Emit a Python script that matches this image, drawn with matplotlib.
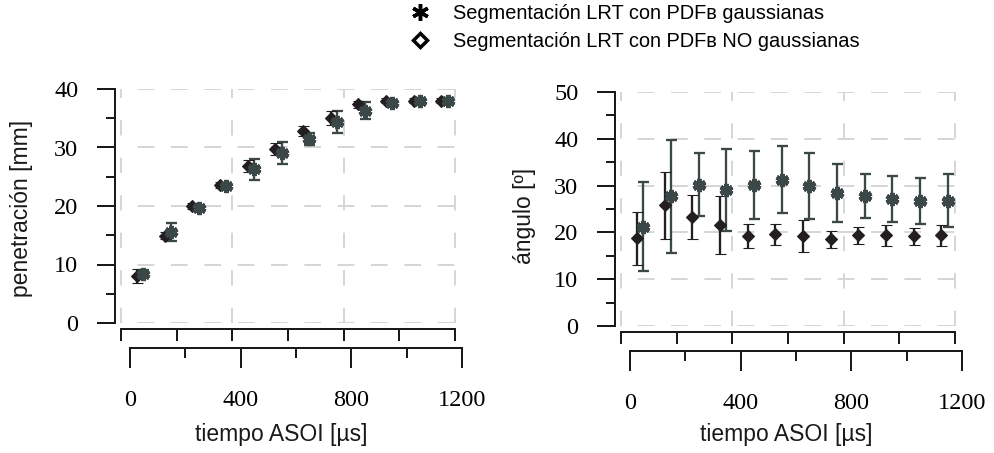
import matplotlib
matplotlib.use("Agg")
import matplotlib.pyplot as plt
import numpy as np
from matplotlib.lines import Line2D
from matplotlib.ticker import MultipleLocator

# Penetration and spray angle vs time after start of injection,
# two LRT segmentation variants (gaussian / non-gaussian background PDF).
tiempo_no_gauss = [25, 125, 225, 325, 425, 525, 625, 725, 825, 925, 1025, 1125]
tiempo_gauss = [48, 148, 248, 348, 448, 548, 648, 748, 848, 948, 1048, 1148]

pen_no_gauss = [8.0, 14.9, 20.0, 23.6, 26.8, 29.7, 32.8, 35.0, 37.4, 38.0, 38.0, 38.0]
pen_no_gauss_err = [1.2, 0.6, 0.5, 0.5, 1.0, 1.0, 0.8, 1.2, 0.6, 0.4, 0.4, 0.4]
pen_gauss = [8.4, 15.6, 19.7, 23.4, 26.3, 29.0, 31.4, 34.4, 36.3, 37.6, 38.0, 38.0]
pen_gauss_err = [0.7, 1.5, 0.5, 0.5, 1.8, 1.9, 1.0, 1.9, 1.5, 0.5, 0.4, 0.4]

ang_no_gauss = [18.7, 25.8, 23.3, 21.5, 19.2, 19.6, 19.2, 18.5, 19.4, 19.4, 19.2, 19.4]
ang_no_gauss_err = [5.7, 7.2, 4.7, 6.2, 2.5, 2.2, 3.4, 1.8, 1.8, 2.2, 1.8, 2.2]
ang_gauss = [21.2, 27.7, 30.2, 29.0, 30.2, 31.3, 29.9, 28.4, 27.7, 27.2, 26.7, 26.8]
ang_gauss_err = [9.5, 12.0, 6.8, 8.8, 7.3, 7.2, 7.1, 6.2, 4.7, 4.9, 4.9, 5.6]

LABEL_GAUSS = "Segmentación LRT con PDFʙ gaussianas"
LABEL_NO_GAUSS = "Segmentación LRT con PDFʙ NO gaussianas"
XLABEL = "tiempo ASOI [µs]"

COLOR_NO = "#231f20"
COLOR_G = "#3b4847"
GRID_COLOR = "#d6d6d6"
SERIF = ["Liberation Serif", "DejaVu Serif"]
SANS = ["Liberation Sans", "DejaVu Sans"]

W, H, DPI = 994, 453, 100
PX = 72.0 / DPI  # points per pixel

plt.rcParams["lines.scale_dashes"] = False


def style_panel(ax, ymax, ystep):
    x_grid_lo, x_grid_hi = -32.5, 1175.0
    ax.set_xlim(-54, 1200)
    ax.set_ylim(0, ymax)

    for side in ("top", "right"):
        ax.spines[side].set_visible(False)
    ax.spines["left"].set_linewidth(2 * PX)
    ax.spines["left"].set_color("#1a1a1a")

    # short upper axis, just under the plot area
    ax.spines["bottom"].set_position(("outward", 6 * PX))
    ax.spines["bottom"].set_bounds(x_grid_lo, x_grid_hi)
    ax.spines["bottom"].set_linewidth(2 * PX)
    ax.spines["bottom"].set_color("#1a1a1a")
    upper_ticks = np.linspace(x_grid_lo, x_grid_hi, 7)
    ax.set_xticks(upper_ticks)
    ax.set_xticklabels([])
    ax.tick_params(axis="x", direction="out", length=12 * PX, width=2 * PX,
                   color="#1a1a1a")

    ax.yaxis.set_major_locator(MultipleLocator(ystep))
    ax.yaxis.set_minor_locator(MultipleLocator(ystep / 2))
    ax.tick_params(axis="y", which="major", direction="out", length=18 * PX,
                   width=2 * PX, pad=13.5, labelsize=17.5, color="#1a1a1a")
    ax.tick_params(axis="y", which="minor", direction="out", length=9 * PX,
                   width=2 * PX, color="#1a1a1a")
    for lab in ax.get_yticklabels():
        lab.set_family(SERIF)

    # dashed grid inside the plot area
    for yv in np.arange(0, ymax + 0.1, ystep):
        ax.hlines(yv, x_grid_lo, x_grid_hi, colors=GRID_COLOR, linewidth=2 * PX,
                  linestyles=(12, (12, 12)), zorder=0)
    for xv in upper_ticks[::2]:
        ax.vlines(xv, 0, ymax, colors=GRID_COLOR, linewidth=2 * PX,
                  linestyles=(0, (11, 16)), zorder=0)

    # lower labelled time axis
    ax2 = ax.twiny()
    ax2.set_xlim(ax.get_xlim())
    for side in ("top", "right", "left"):
        ax2.spines[side].set_visible(False)
    ax2.xaxis.set_ticks_position("bottom")
    ax2.xaxis.set_label_position("bottom")
    ax2.spines["bottom"].set_visible(True)
    ax2.spines["bottom"].set_position(("outward", 25 * PX))
    ax2.spines["bottom"].set_bounds(0, 1200)
    ax2.spines["bottom"].set_linewidth(2 * PX)
    ax2.spines["bottom"].set_color("#1a1a1a")
    ax2.xaxis.set_major_locator(MultipleLocator(400))
    ax2.xaxis.set_minor_locator(MultipleLocator(200))
    ax2.tick_params(axis="x", which="major", direction="out", length=20 * PX,
                    width=2 * PX, pad=16, labelsize=17.5, color="#1a1a1a")
    ax2.tick_params(axis="x", which="minor", direction="out", length=10 * PX,
                    width=2 * PX, color="#1a1a1a")
    for lab in ax2.get_xticklabels():
        lab.set_family(SERIF)


def draw_series(ax, y_no, e_no, y_g, e_g):
    ax.errorbar(tiempo_no_gauss, y_no, yerr=e_no, fmt="D", color=COLOR_NO,
                markersize=6.5, markeredgewidth=0.8, ecolor=COLOR_NO,
                elinewidth=2.3 * PX, capsize=5.5 * PX, capthick=2.3 * PX, zorder=3)
    ax.errorbar(tiempo_gauss, y_g, yerr=e_g, fmt="none", ecolor=COLOR_G,
                elinewidth=2.3 * PX, capsize=5.5 * PX, capthick=2.3 * PX, zorder=2)
    ax.plot(tiempo_gauss, y_g, linestyle="none", marker=(6, 2, 0), markersize=9.5,
            markeredgewidth=3.3, color=COLOR_G, zorder=4)


fig = plt.figure(figsize=(W / DPI, H / DPI), dpi=DPI)

ax_pen = fig.add_axes([115 / W, 1 - 323 / H, 347 / W, 234 / H])
ax_ang = fig.add_axes([615 / W, 1 - 326 / H, 347 / W, 234 / H])

style_panel(ax_pen, 40, 10)
style_panel(ax_ang, 50, 10)
draw_series(ax_pen, pen_no_gauss, pen_no_gauss_err, pen_gauss, pen_gauss_err)
draw_series(ax_ang, ang_no_gauss, ang_no_gauss_err, ang_gauss, ang_gauss_err)

LABEL_SIZE = 16.5
fig.text(22 / W, 1 - 208 / H, "penetración [mm]", rotation=90, ha="center",
         va="center", fontsize=LABEL_SIZE, family=SANS, color="#1a1a1a")
fig.text(525 / W, 1 - 216 / H, "ángulo [º]", rotation=90, ha="center",
         va="center", fontsize=LABEL_SIZE, family=SANS, color="#1a1a1a")
fig.text(281 / W, 1 - 434 / H, XLABEL, ha="center", va="center",
         fontsize=LABEL_SIZE, family=SANS, color="#1a1a1a")
fig.text(786 / W, 1 - 435 / H, XLABEL, ha="center", va="center",
         fontsize=LABEL_SIZE, family=SANS, color="#1a1a1a")

handles = [
    Line2D([], [], linestyle="none", marker=(6, 2, 0), markersize=12,
           markeredgewidth=2.5, color="black"),
    Line2D([], [], linestyle="none", marker="D", markersize=7,
           markerfacecolor="white", markeredgecolor="black", markeredgewidth=2.5),
]
fig.legend(handles, [LABEL_GAUSS, LABEL_NO_GAUSS], loc="upper left",
           bbox_to_anchor=(400 / W, 1 + 6 / H), frameon=False,
           prop={"family": SANS, "size": 14.4}, handlelength=1.0,
           handletextpad=1.15, labelspacing=0.45, borderpad=0.0)

fig.savefig("out.png", dpi=DPI)
